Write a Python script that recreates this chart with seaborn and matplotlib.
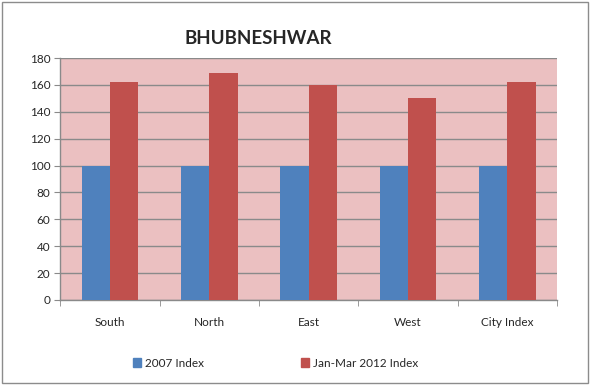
import matplotlib.pyplot as plt
import matplotlib.patches as mpatches
import numpy as np
import pandas as pd
import seaborn as sns

# Chart data
regions = ['South', 'North', 'East', 'West', 'City Index']
index_2007 = [100, 100, 100, 100, 100]
index_2012 = [162, 169, 160, 150, 162]
series_names = ['2007 Index', 'Jan-Mar 2012 Index']
colors = ['#4F81BD', '#C0504D']

df = pd.DataFrame({
    'Region': regions * 2,
    'Series': [series_names[0]] * len(regions) + [series_names[1]] * len(regions),
    'Value': index_2007 + index_2012,
})

sns.set_style('white')
plt.rcParams['font.family'] = ['Lato', 'DejaVu Sans']

fig = plt.figure(figsize=(5.9, 3.85), dpi=100)
ax = fig.add_axes([0.102, 0.221, 0.842, 0.628])

sns.barplot(data=df, x='Region', y='Value', hue='Series', palette=colors,
            width=0.57, saturation=1, ax=ax, legend=False, zorder=3, linewidth=0)

ax.set_facecolor('#ebc0c1')
ax.set_ylim(0, 180)
ax.set_xlim(-0.5, len(regions) - 0.5)
ax.set_yticks(np.arange(0, 181, 20))
ax.yaxis.grid(True, color='#8a8a8a', linewidth=1, zorder=1)
ax.set_axisbelow(True)
ax.set_xlabel('')
ax.set_ylabel('')

# category boundary ticks on x axis
ax.set_xticks(np.arange(len(regions)))
ax.set_xticklabels(regions, fontsize=8.5)
ax.set_xticks(np.arange(-0.5, len(regions)), minor=True)
ax.tick_params(axis='x', which='major', length=0, pad=12)
ax.tick_params(axis='x', which='minor', length=4, color='#8a8a8a', direction='out')
ax.tick_params(axis='y', length=4, color='#8a8a8a', direction='out', labelsize=8.5, pad=3)
ax.xaxis.set_tick_params(which='minor', bottom=True)
ax.yaxis.set_tick_params(left=True)

for side in ['top', 'right']:
    ax.spines[side].set_visible(False)
for side in ['left', 'bottom']:
    ax.spines[side].set_color('#8a8a8a')
    ax.spines[side].set_linewidth(1)

fig.text(0.437, 0.9, 'BHUBNESHWAR', fontsize=13.5, fontweight='bold', ha='center', va='center')

handles = [mpatches.Patch(color=c, label=n) for c, n in zip(colors, series_names)]
fig.legend(handles=handles, loc='center', bbox_to_anchor=(0.467, 0.057), ncol=2, frameon=False,
           fontsize=8.5, handlelength=0.7, handleheight=0.7, handletextpad=0.3, columnspacing=8.2)

# outer border
fig.patches.append(mpatches.Rectangle((0.004, 0.006), 0.992, 0.988, transform=fig.transFigure,
                                      fill=False, edgecolor='#8c8c8c', linewidth=1))

fig.savefig('out.png', dpi=100)
